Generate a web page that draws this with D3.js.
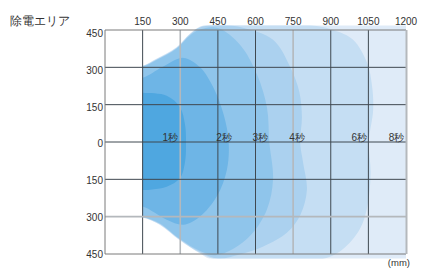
<!DOCTYPE html>
<html>
<head>
<meta charset="utf-8">
<script src="https://cdn.jsdelivr.net/npm/d3@7"></script>
<style>
  body { margin: 0; background: #fff; }
  text { font-family: "Liberation Sans", Arial, sans-serif; fill: #333; }
</style>
</head>
<body>
<svg id="chart" width="421" height="272"></svg>
<script>
// axis ticks (mm)
const xTicks = [150, 300, 450, 600, 750, 900, 1050, 1200];
const yTicks = [450, 300, 150, 0, -150, -300, -450];
const lightX = [300, 750];      // grid lines drawn in light grey
const lightY = [-300];

// time labels and where they end (mm along x, sitting on y=0)
const times = ["1秒", "2秒", "3秒", "4秒", "6秒", "8秒"];
const timeLabelX = [291, 506, 650, 797, 1045, 1193];
const fills = ["#4fa7e0", "#6eb5e6", "#8fc5eb", "#abd1ef", "#c5def3", "#dfebf8"];

// outlines of each area, [x mm, y mm]; left side is cut at 150 mm
const area1 = [[100,198],[150,198],[246,186],[299,140],[319,70],[323,0],[319,-80],[299,-145],[246,-180],[180,-192],[150,-193],[100,-193]];
const area2 = [[100,258],[150,258],[230,302],[313,338],[379,300],[433,217],[473,110],[493,0],[486,-111],[446,-218],[379,-299],[313,-332],[246,-312],[150,-259],[100,-259]];
const area3 = [[100,301],[150,302],[206,329],[286,376],[339,428],[379,452],[450,458],[539,390],[606,271],[646,137],[655,0],[670,-150],[646,-270],[585,-370],[510,-430],[440,-455],[379,-438],[299,-390],[219,-327],[150,-301],[100,-301]];
const area4 = [[100,302],[150,304],[206,331],[286,378],[339,432],[379,460],[470,470],[550,459],[670,411],[738,302],[775,200],[785,100],[778,0],[790,-84],[805,-192],[780,-290],[725,-365],[631,-420],[538,-452],[450,-468],[379,-443],[299,-392],[219,-329],[150,-302],[100,-302]];
const area6 = [[100,303],[150,305],[206,333],[286,380],[339,434],[379,462],[450,474],[817,470],[910,450],[989,411],[1045,318],[1065,222],[1069,129],[1052,0],[1059,-125],[1046,-259],[1015,-352],[949,-430],[869,-470],[450,-474],[379,-446],[299,-394],[219,-331],[150,-303],[100,-303]];
const area8 = [[100,304],[150,306],[206,335],[286,382],[339,436],[379,464],[450,482],[1300,482],[1300,-482],[450,-482],[379,-448],[299,-396],[219,-333],[150,-304],[100,-304]];
const areas = [area1, area2, area3, area4, area6, area8];

const svg = d3.select("#chart");
const x = d3.scaleLinear().domain([0, 1200]).range([105, 406]);
const y = d3.scaleLinear().domain([450, -450]).range([30, 254]);
// the y labels in the original are spaced a little tighter than the grid
const yLab = d3.scaleLinear().domain([450, -450]).range([33.5, 254]);

svg.append("defs").append("clipPath").attr("id", "plotClip")
  .append("rect")
  .attr("x", x(150)).attr("y", y(468))
  .attr("width", x(1200) - x(150)).attr("height", y(-468) - y(468));

const line = d3.line()
  .x(d => x(d[0])).y(d => y(d[1]))
  .curve(d3.curveCatmullRomClosed.alpha(0.5));

// biggest first so smaller ones sit on top
svg.append("g").attr("clip-path", "url(#plotClip)")
  .selectAll("path")
  .data(areas.slice().reverse())
  .join("path")
  .attr("d", line)
  .attr("fill", (d, i) => fills[fills.length - 1 - i]);

// grid
const grid = svg.append("g");
grid.selectAll(".vx")
  .data(xTicks.slice(0, -1))
  .join("line")
  .attr("x1", d => x(d)).attr("x2", d => x(d))
  .attr("y1", y(450)).attr("y2", y(-450))
  .attr("stroke", d => lightX.includes(d) ? "#b4b8bc" : "#3f4850")
  .attr("stroke-width", d => lightX.includes(d) ? 1.6 : 1);
grid.selectAll(".hy")
  .data(yTicks.slice(1, -1))
  .join("line")
  .attr("x1", x(0)).attr("x2", x(1200))
  .attr("y1", d => y(d)).attr("y2", d => y(d))
  .attr("stroke", d => lightY.includes(d) ? "#b4b8bc" : "#3f4850")
  .attr("stroke-width", d => lightY.includes(d) ? 1.6 : 1);

// frame
svg.append("path")
  .attr("d", `M${x(1200)},${y(450)}H${x(0)}V${y(-450)}H${x(1200)}`)
  .attr("fill", "none").attr("stroke", "#7a7a7a").attr("stroke-width", 1);
svg.append("line")
  .attr("x1", x(1200) + 0.5).attr("x2", x(1200) + 0.5)
  .attr("y1", y(450)).attr("y2", y(-450))
  .attr("stroke", "#b4b8bc").attr("stroke-width", 2);

// top axis labels
svg.append("g").selectAll("text")
  .data(xTicks)
  .join("text")
  .attr("x", d => x(d)).attr("y", 25)
  .attr("text-anchor", "middle")
  .attr("font-size", 10)
  .text(d => d);

// left axis labels (both halves shown as positive)
svg.append("g").selectAll("text")
  .data(yTicks)
  .join("text")
  .attr("x", 103).attr("y", d => yLab(d))
  .attr("dy", "0.35em")
  .attr("text-anchor", "end")
  .attr("font-size", 10)
  .text(d => Math.abs(d));

// time labels
svg.append("g").selectAll("text")
  .data(times)
  .join("text")
  .attr("x", (d, i) => x(timeLabelX[i])).attr("y", y(0) - 1.5)
  .attr("text-anchor", "end")
  .attr("font-size", 10)
  .text(d => d);

svg.append("text")
  .attr("x", 10).attr("y", 25)
  .attr("font-size", 12)
  .attr("font-family", "Noto Sans CJK JP")
  .attr("fill", "#444")
  .text("除電エリア");

svg.append("text")
  .attr("x", 410).attr("y", 266)
  .attr("text-anchor", "end")
  .attr("font-size", 9.5)
  .text("(mm)");
</script>
</body>
</html>
